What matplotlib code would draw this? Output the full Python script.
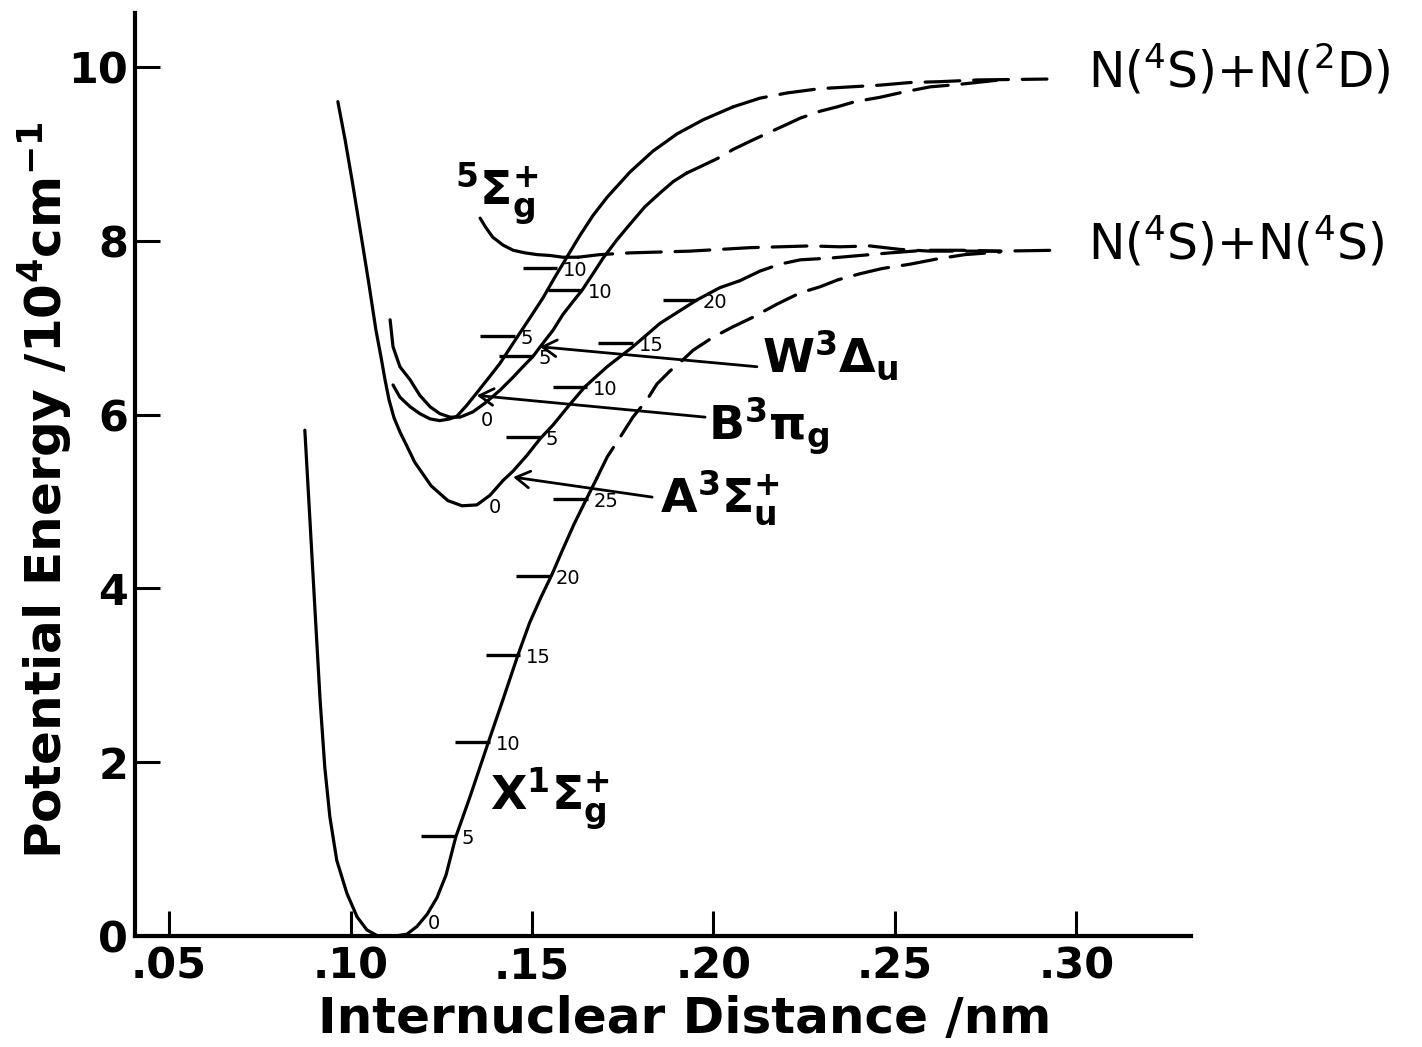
import matplotlib
matplotlib.use("Agg")
import matplotlib.pyplot as plt

plt.rcParams["font.family"] = ["DejaVu Sans"]
plt.rcParams["mathtext.fontset"] = "custom"
plt.rcParams["mathtext.rm"] = "DejaVu Sans"
plt.rcParams["mathtext.it"] = "DejaVu Sans"
plt.rcParams["mathtext.bf"] = "DejaVu Sans:bold"
plt.rcParams["lines.scale_dashes"] = False

# ---------------- data (r in nm, E in 10^4 cm^-1) ----------------
x_ticks = [0.05, 0.10, 0.15, 0.20, 0.25, 0.30]
x_tick_labels = [".05", ".10", ".15", ".20", ".25", ".30"]
y_ticks = [0, 2, 4, 6, 8, 10]
y_tick_labels = ["0", "2", "4", "6", "8", "10"]

# X 1Sigma_g+
X_solid_r = [0.0874, 0.0888, 0.0902, 0.0916, 0.0929, 0.0943, 0.0962, 0.0990, 0.1018, 0.1045,
             0.1075, 0.1122, 0.1155, 0.1183, 0.1211, 0.1238, 0.1263, 0.1290, 0.1329, 0.1379,
             0.1420, 0.1461, 0.1494, 0.1525, 0.1555, 0.1585, 0.1616, 0.1649, 0.1679]
X_solid_E = [5.82, 4.79, 3.75, 2.72, 1.94, 1.37, 0.87, 0.49, 0.22, 0.07,
             0.00, 0.00, 0.02, 0.11, 0.25, 0.44, 0.70, 1.14, 1.60, 2.22,
             2.72, 3.23, 3.61, 3.90, 4.16, 4.45, 4.74, 5.02, 5.27]
X_dash_r = [0.1679, 0.1707, 0.1743, 0.1778, 0.1817, 0.1844, 0.1880, 0.1916, 0.1944, 0.1999,
            0.2054, 0.2109, 0.2175, 0.2239, 0.2294, 0.2343, 0.2404, 0.2465, 0.2542, 0.2616,
            0.2693, 0.2790]
X_dash_E = [5.27, 5.51, 5.74, 5.97, 6.17, 6.35, 6.50, 6.63, 6.74, 6.89,
            7.01, 7.12, 7.27, 7.40, 7.47, 7.55, 7.62, 7.68, 7.73, 7.79,
            7.84, 7.87]

# A 3Sigma_u+
A_solid_r = [0.0965, 0.0985, 0.1004, 0.1031, 0.1051, 0.1070, 0.1084, 0.1095, 0.1106, 0.1120,
             0.1136, 0.1155, 0.1177, 0.1222, 0.1268, 0.1307, 0.1348, 0.1384, 0.1420, 0.1448,
             0.1486, 0.1522, 0.1558, 0.1605, 0.1646, 0.1707, 0.1778, 0.1853, 0.1955, 0.2018,
             0.2073]
A_solid_E = [9.60, 9.16, 8.70, 8.01, 7.49, 6.97, 6.66, 6.40, 6.17, 5.96,
             5.80, 5.64, 5.45, 5.18, 5.01, 4.95, 4.96, 5.07, 5.24, 5.35,
             5.53, 5.72, 5.88, 6.12, 6.32, 6.55, 6.78, 7.05, 7.32, 7.46,
             7.54]
A_dash_r = [0.2073, 0.2128, 0.2183, 0.2239, 0.2321, 0.2404, 0.2487, 0.2583, 0.2680, 0.2790]
A_dash_E = [7.54, 7.65, 7.73, 7.78, 7.80, 7.83, 7.86, 7.89, 7.89, 7.88]

# B 3Pi_g
B_solid_r = [0.1117, 0.1136, 0.1164, 0.1191, 0.1219, 0.1246, 0.1274, 0.1293, 0.1321, 0.1348,
             0.1384, 0.1412, 0.1459, 0.1494, 0.1530, 0.1563, 0.1596, 0.1632, 0.1668, 0.1707,
             0.1770, 0.1833, 0.1900, 0.1971, 0.2054]
B_solid_E = [6.34, 6.20, 6.09, 6.01, 5.95, 5.93, 5.95, 5.98, 6.11, 6.25,
             6.44, 6.59, 6.89, 7.11, 7.34, 7.58, 7.81, 8.06, 8.29, 8.50,
             8.79, 9.03, 9.23, 9.39, 9.54]
B_dash_r = [0.2054, 0.2128, 0.2203, 0.2294, 0.2377, 0.2459, 0.2542, 0.2625, 0.2729, 0.2919]
B_dash_E = [9.54, 9.64, 9.70, 9.75, 9.77, 9.79, 9.82, 9.83, 9.85, 9.86]

# W 3Delta_u
W_solid_r = [0.1109, 0.1117, 0.1136, 0.1164, 0.1191, 0.1219, 0.1246, 0.1274, 0.1302, 0.1337,
             0.1370, 0.1412, 0.1448, 0.1475, 0.1503, 0.1530, 0.1558, 0.1585, 0.1613, 0.1638,
             0.1668, 0.1696, 0.1734, 0.1770, 0.1811, 0.1853, 0.1889, 0.1927]
W_solid_E = [7.09, 6.78, 6.55, 6.40, 6.22, 6.09, 6.01, 5.97, 5.97, 6.03,
             6.13, 6.28, 6.43, 6.55, 6.67, 6.82, 6.97, 7.15, 7.30, 7.43,
             7.62, 7.80, 8.01, 8.19, 8.39, 8.55, 8.68, 8.78]
W_dash_r = [0.1927, 0.1963, 0.2018, 0.2054, 0.2109, 0.2156, 0.2203, 0.2239, 0.2294, 0.2341,
            0.2390, 0.2459, 0.2523, 0.2597, 0.2680, 0.2790]
W_dash_E = [8.78, 8.85, 8.96, 9.05, 9.16, 9.25, 9.34, 9.41, 9.49, 9.54,
            9.60, 9.65, 9.71, 9.77, 9.80, 9.85]

# 5Sigma_g+
Q_solid_r = [0.1357, 0.1373, 0.1392, 0.1420, 0.1448, 0.1481, 0.1514, 0.1550, 0.1585, 0.1627]
Q_solid_E = [8.26, 8.15, 8.04, 7.95, 7.89, 7.86, 7.84, 7.83, 7.81, 7.81]
Q_dash_r = [0.1627, 0.1687, 0.1770, 0.1853, 0.1935, 0.2018, 0.2101, 0.2183, 0.2266, 0.2349,
            0.2431, 0.2514, 0.2597, 0.2680, 0.2790, 0.2941]
Q_dash_E = [7.81, 7.84, 7.86, 7.87, 7.88, 7.90, 7.92, 7.93, 7.94, 7.93,
            7.94, 7.90, 7.88, 7.88, 7.88, 7.89]

# vibrational levels: (v, r at curve, E)
X_lev_v = [0, 5, 10, 15, 20, 25]
X_lev_r = [0.1198, 0.1290, 0.1384, 0.1467, 0.1550, 0.1654]
X_lev_E = [0.17, 1.15, 2.23, 3.23, 4.14, 5.03]
A_lev_v = [0, 5, 10, 15, 20]
A_lev_r = [0.1365, 0.1522, 0.1652, 0.1778, 0.1955]
A_lev_E = [4.96, 5.74, 6.32, 6.82, 7.32]
B_lev_v = [0, 5, 10]
B_lev_r = [0.1343, 0.1453, 0.1569]
B_lev_E = [5.96, 6.90, 7.69]
W_lev_v = [5, 10]
W_lev_r = [0.1503, 0.1638]
W_lev_E = [6.67, 7.43]

# state labels
state_text = [r"$\mathbf{{}^{5}\Sigma_{g}^{+}}$", r"$\mathbf{W^{3}\Delta_{u}}$",
              r"$\mathbf{B^{3}\pi_{g}}$", r"$\mathbf{A^{3}\Sigma_{u}^{+}}$",
              r"$\mathbf{X^{1}\Sigma_{g}^{+}}$"]
state_r = [0.1288, 0.2134, 0.1985, 0.1853, 0.1384]
state_E = [8.41, 6.49, 5.71, 4.88, 1.45]

# arrows: tail (label side) -> tip (curve)
arrow_tail_r = [0.2120, 0.1977, 0.1831]
arrow_tail_E = [6.55, 5.97, 5.05]
arrow_tip_r = [0.1522, 0.1348, 0.1448]
arrow_tip_E = [6.78, 6.22, 5.28]

# dissociation limits
limit_text = [r"N(${}^{4}$S)+N(${}^{2}$D)", r"N(${}^{4}$S)+N(${}^{4}$S)"]
limit_r = [0.3032, 0.3032]
limit_E = [9.76, 7.78]

# ---------------- figure ----------------
fig = plt.figure(figsize=(14.22, 10.47), dpi=100)
ax = fig.add_axes([135 / 1422, 111 / 1047, 1056 / 1422, 923 / 1047])

LW = 2.3
DASH = (0, (25, 10))


def solid(r, E):
    ax.plot(r, E, color="black", lw=LW, solid_capstyle="round",
            solid_joinstyle="round", clip_on=False)


def dashed(r, E):
    ax.plot(r, E, color="black", lw=LW, linestyle=DASH,
            dash_capstyle="round", dash_joinstyle="round", clip_on=False)


for s_r, s_E, d_r, d_E in [(X_solid_r, X_solid_E, X_dash_r, X_dash_E),
                           (A_solid_r, A_solid_E, A_dash_r, A_dash_E),
                           (B_solid_r, B_solid_E, B_dash_r, B_dash_E),
                           (W_solid_r, W_solid_E, W_dash_r, W_dash_E),
                           (Q_solid_r, Q_solid_E, Q_dash_r, Q_dash_E)]:
    solid(s_r, s_E)
    dashed(d_r, d_E)

TICK_LEN = 0.0095
LBL_DX = 0.0016
LBL_DY = -0.03
for vs, rs, Es in [(X_lev_v, X_lev_r, X_lev_E), (A_lev_v, A_lev_r, A_lev_E),
                   (B_lev_v, B_lev_r, B_lev_E), (W_lev_v, W_lev_r, W_lev_E)]:
    for v, r, E in zip(vs, rs, Es):
        if v > 0:
            ax.plot([r - TICK_LEN, r], [E, E], color="black", lw=2.4,
                    solid_capstyle="butt", clip_on=False)
        ax.text(r + LBL_DX, E + LBL_DY, str(v), fontsize=14, ha="left",
                va="center", color="black")

for t, r, E in zip(state_text, state_r, state_E):
    ax.text(r, E, t, fontsize=34, ha="left", va="baseline", color="black")

for tr, tE, pr, pE in zip(arrow_tail_r, arrow_tail_E, arrow_tip_r, arrow_tip_E):
    ax.annotate("", xy=(pr, pE), xytext=(tr, tE),
                arrowprops=dict(arrowstyle="->,head_length=0.5,head_width=0.3",
                                lw=2.0, color="black", shrinkA=0, shrinkB=0,
                                mutation_scale=20),
                annotation_clip=False)

for t, r, E in zip(limit_text, limit_r, limit_E):
    ax.text(r, E, t, fontsize=35, ha="left", va="baseline", color="black")

ax.set_xlim(0.0406, 0.3316)
ax.set_ylim(0, 10.62)
ax.set_xticks(x_ticks)
ax.set_xticklabels(x_tick_labels)
ax.set_yticks(y_ticks)
ax.set_yticklabels(y_tick_labels)
ax.spines[["top", "right"]].set_visible(False)
for sp in ["left", "bottom"]:
    ax.spines[sp].set_linewidth(3.0)
ax.tick_params(axis="both", direction="in", length=18, width=2.2, labelsize=31)
ax.tick_params(axis="x", pad=7)
ax.tick_params(axis="y", pad=5)
for lbl in ax.get_xticklabels() + ax.get_yticklabels():
    lbl.set_fontweight("bold")

fig.text(685 / 1422, 14 / 1047, "Internuclear Distance /nm", ha="center",
         va="baseline", fontsize=36, fontweight="bold")
fig.text(45 / 1422, 1 - 490 / 1047,
         r"Potential Energy /10$^{\mathbf{4}}$cm$^{\mathbf{-1}}$",
         rotation=90, ha="center", va="center", fontsize=36, fontweight="bold")

fig.savefig("out.png", dpi=100)
